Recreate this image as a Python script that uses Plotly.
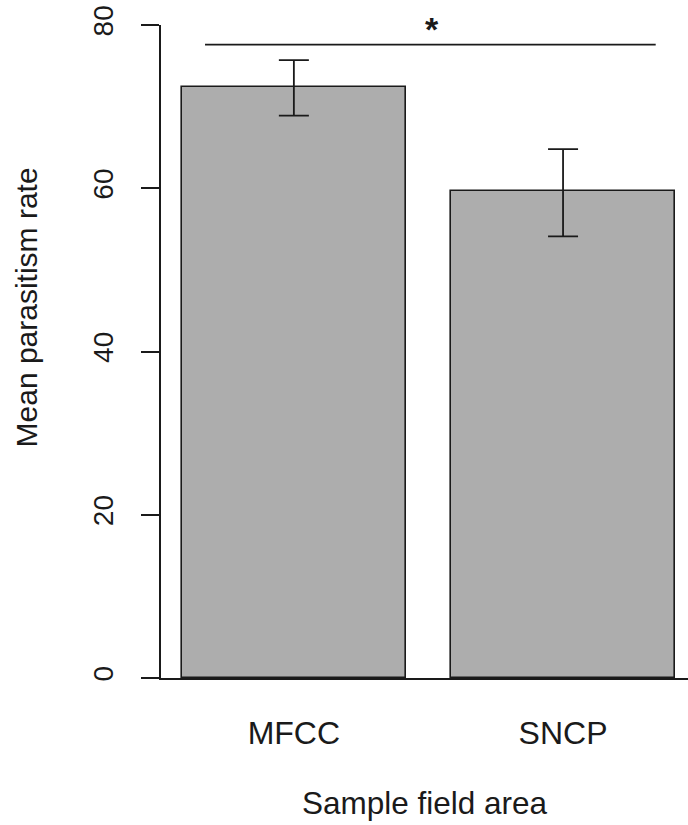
import plotly.graph_objects as go

# Data
categories = ["MFCC", "SNCP"]
bar_positions = [0.7, 1.9]
mean_rate = [72.4, 59.7]
err_plus = [3.3, 5.1]
err_minus = [3.5, 5.6]
y_ticks = [0, 20, 40, 60, 80]
sig_label = "*"
sig_level = 77.6

FONT = "Liberation Sans, Arial, sans-serif"
TXT = "#1a1a1a"

fig = go.Figure()
fig.add_trace(go.Bar(
    x=bar_positions, y=mean_rate, width=1.0,
    marker=dict(color="#ADADAD", line=dict(color="#1a1a1a", width=1.6)),
    error_y=dict(type="data", symmetric=False, array=err_plus, arrayminus=err_minus,
                 color="#1a1a1a", thickness=1.8, width=15),
    showlegend=False, hoverinfo="skip",
))

# significance line
fig.add_shape(type="line", xref="x", yref="y", x0=0.304, x1=2.313, y0=sig_level, y1=sig_level,
              line=dict(color="#1a1a1a", width=1.8))
fig.add_annotation(x=1.316, y=1.0, xref="x", yref="paper", text="<b>" + sig_label + "</b>",
                   showarrow=False, font=dict(size=34, color=TXT, family=FONT),
                   xanchor="center", yanchor="middle", yshift=-4)

# axis titles as annotations
fig.add_annotation(x=-0.2543, y=0.5674, xref="paper", yref="paper", text="Mean parasitism rate",
                   textangle=-90, showarrow=False, font=dict(size=30, color=TXT, family=FONT),
                   xanchor="center", yanchor="middle")
fig.add_annotation(x=0.5, y=-0.1914, xref="paper", yref="paper", text="Sample field area",
                   showarrow=False, font=dict(size=31.5, color=TXT, family=FONT),
                   xanchor="center", yanchor="middle")

fig.update_layout(
    width=688, height=825,
    margin=dict(l=161, r=0, t=25, b=147, pad=0),
    plot_bgcolor="white", paper_bgcolor="white",
    font=dict(family=FONT, color=TXT),
    bargap=0,
)
fig.update_xaxes(
    range=[0.1077, 2.457], tickvals=bar_positions, ticktext=categories,
    showgrid=False, zeroline=False, showline=True, linecolor="#1a1a1a", linewidth=1.6,
    ticks="", tickfont=dict(size=32, color=TXT, family=FONT), ticklabelstandoff=26,
)
fig.update_yaxes(
    range=[0, 80], tickvals=y_ticks, showgrid=False, zeroline=False,
    showline=True, linecolor="#1a1a1a", linewidth=1.6,
    ticks="outside", ticklen=18, tickwidth=1.6, tickcolor="#1a1a1a",
    tickangle=-90, tickfont=dict(size=28, color=TXT, family=FONT), ticklabelstandoff=17,
)

fig.write_html("out.html", config={"displayModeBar": False},
               post_script="document.body.style.margin='0';document.body.style.overflow='hidden';")
